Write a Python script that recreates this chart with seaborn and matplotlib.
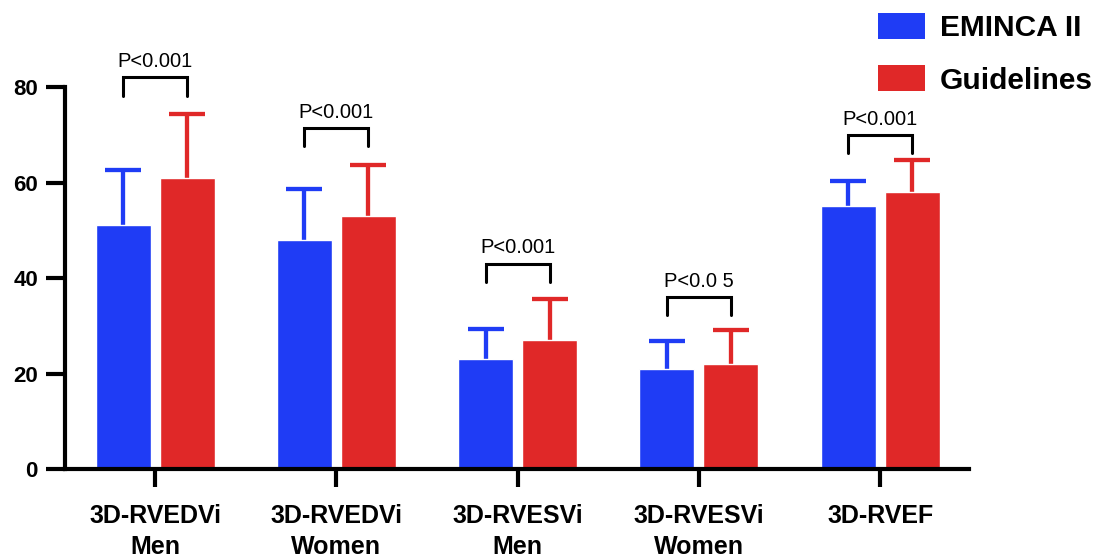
import pandas as pd
import matplotlib.pyplot as plt
import seaborn as sns
from matplotlib.patches import Patch

# Données
measures = ['3D-RVEDVi\nMen', '3D-RVEDVi\nWomen', '3D-RVESVi\nMen', '3D-RVESVi\nWomen', '3D-RVEF']
groups = ['EMINCA II', 'Guidelines']
eminca_mean = [51, 48, 23, 21, 55]
eminca_sd = [11.7, 10.7, 6.3, 5.8, 5.3]
guide_mean = [61, 53, 27, 22, 58]
guide_sd = [13.3, 10.6, 8.6, 7.1, 6.7]
p_labels = ['P<0.001', 'P<0.001', 'P<0.001', 'P<0.0 5', 'P<0.001']
bracket_y = [82, 71.4, 43, 36, 70]

colors = {'EMINCA II': '#1f3cf5', 'Guidelines': '#e02828'}

df = pd.DataFrame({
    'measure': measures * 2,
    'group': [groups[0]] * 5 + [groups[1]] * 5,
    'value': eminca_mean + guide_mean,
})
sds = [eminca_sd, guide_sd]

sns.set_style('ticks')
plt.rcParams['font.family'] = ['Liberation Sans', 'DejaVu Sans']

fig = plt.figure(figsize=(11.04, 5.6), dpi=100)
ax = fig.add_axes([0.0589, 0.1625, 0.8188, 0.6821])

sns.barplot(data=df, x='measure', y='value', hue='group', order=measures,
            hue_order=groups, palette=colors, width=0.707, gap=0.14,
            errorbar=None, saturation=1, legend=False, ax=ax)

# Barres d'erreur (uniquement vers le haut)
bar_conts = list(ax.containers)
centres = []
for i, cont in enumerate(bar_conts):
    xs = [b.get_x() + b.get_width() / 2 for b in cont]
    hs = [b.get_height() for b in cont]
    centres.append(xs)
    eb = ax.errorbar(xs, hs, yerr=[[0] * len(hs), sds[i]], fmt='none',
                     ecolor=colors[groups[i]], elinewidth=3.1, capsize=13,
                     capthick=3.1, zorder=0.5)
    eb[1][0].set_visible(False)  # pas de cap du bas

# Crochets de significativité
drop = 3.8
for k in range(len(measures)):
    x1, x2 = centres[0][k], centres[1][k]
    y = bracket_y[k]
    ax.plot([x1, x1, x2, x2], [y - drop, y, y, y - drop], color='black',
            lw=2.2, clip_on=False, solid_joinstyle='miter')
    ax.text((x1 + x2) / 2, y + 1.3, p_labels[k], ha='center', va='bottom',
            fontsize=14.5, color='black', clip_on=False)

ax.set_xlim(-0.497, 4.49)
ax.set_ylim(0, 80)
ax.set_yticks([0, 20, 40, 60, 80])
ax.set_xlabel('')
ax.set_ylabel('')
for s in ['top', 'right']:
    ax.spines[s].set_visible(False)
for s in ['left', 'bottom']:
    ax.spines[s].set_linewidth(3)
    ax.spines[s].set_color('black')
ax.tick_params(axis='y', length=13.5, width=3, pad=6, labelsize=16,
               color='black', labelcolor='black')
ax.tick_params(axis='x', length=13, width=3, pad=12, labelsize=18,
               color='black', labelcolor='black')
for lab in ax.get_xticklabels() + ax.get_yticklabels():
    lab.set_fontweight('bold')
for lab in ax.get_xticklabels():
    lab.set_linespacing(1.4)

handles = [Patch(facecolor=colors[g], edgecolor='none', label=g) for g in groups]
leg = fig.legend(handles=handles, loc='upper left', bbox_to_anchor=(0.782, 1.003),
                 frameon=False, handlelength=1.57, handleheight=0.95,
                 handletextpad=0.5, labelspacing=0.77, borderpad=0,
                 labelcolor='black', prop={'size': 21.5, 'weight': 'bold'})

fig.savefig('out.png', dpi=100)
